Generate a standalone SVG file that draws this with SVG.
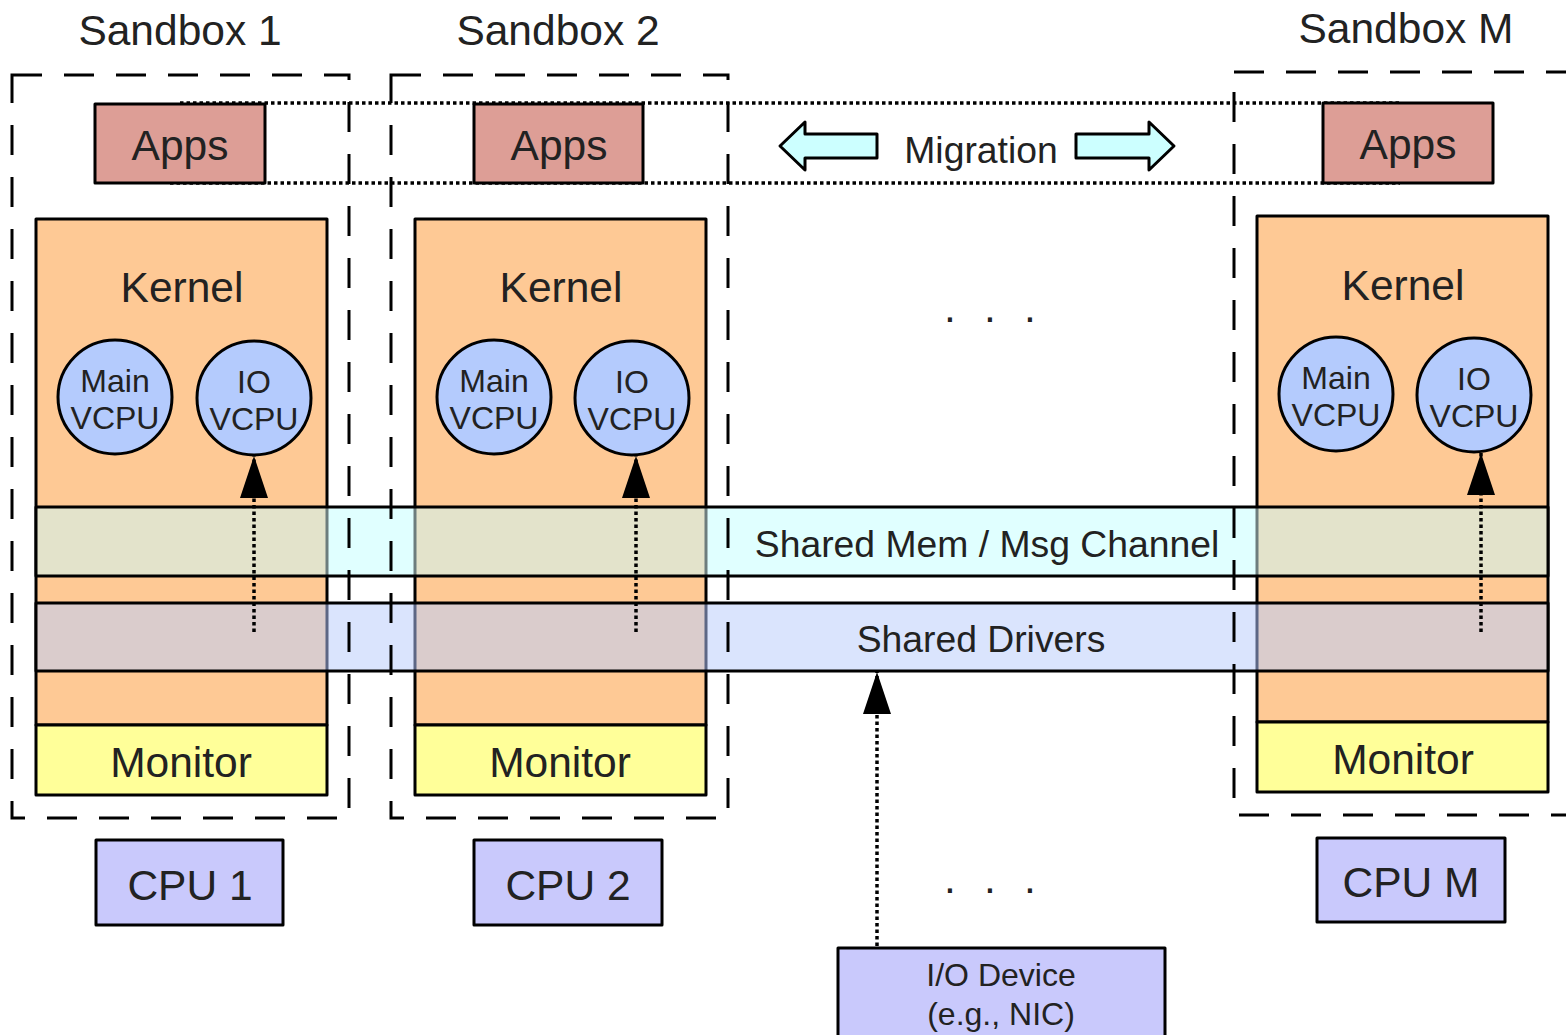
<svg xmlns="http://www.w3.org/2000/svg" width="1566" height="1035" viewBox="0 0 1566 1035">
  <style>
    text { font-family: "Liberation Sans", Arial, sans-serif; fill: #222; text-anchor: middle; }
    .box { stroke: #000; stroke-width: 3; stroke-linejoin: round; }
    .apps { fill: #dd9e96; }
    .kernel { fill: #fec995; }
    .monitor { fill: #ffff99; }
    .cpu { fill: #c9c9fc; }
    .vcpu { fill: #b4cbfd; stroke: #000; stroke-width: 3; }
    .sandbox { fill: none; stroke: #000; stroke-width: 3; stroke-dasharray: 30 22; }
    .dot { fill: none; stroke: #000; stroke-width: 3.5; stroke-dasharray: 3.5 3; }
    .big { font-size: 42.5px; }
    .mid { font-size: 37.3px; }
    .small { font-size: 32px; }
  </style>
  <defs>
    <marker id="head" viewBox="0 0 42 28" refX="42" refY="14" markerWidth="42" markerHeight="28" markerUnits="userSpaceOnUse" orient="auto">
      <path d="M42 14 L0 0 L0 28 Z" fill="#000"/>
    </marker>
  </defs>
  <rect width="1566" height="1035" fill="#fff"/>

  <!-- migration corridor between the app boxes -->
  <g id="migration">
    <line class="dot" x1="180" y1="103" x2="1400" y2="103"/>
    <line class="dot" x1="170" y1="183" x2="1400" y2="183"/>
    <path class="box" fill="#ccffff" d="M780 146 L805 122 L805 134 L877 134 L877 158 L805 158 L805 170 Z"/>
    <path class="box" fill="#ccffff" d="M1174 146 L1149 122 L1149 134 L1076 134 L1076 158 L1149 158 L1149 170 Z"/>
    <text class="mid" x="981" y="163">Migration</text>
  </g>

  <!-- sandbox 1 -->
  <g id="sandbox1">
    <text class="big" x="180" y="45">Sandbox 1</text>
    <rect class="box apps" x="95" y="104" width="170" height="79"/>
    <text class="big" x="180" y="160">Apps</text>
    <rect class="box kernel" x="36" y="219" width="291" height="506"/>
    <text class="big" x="182" y="302">Kernel</text>
    <circle class="vcpu" cx="115" cy="397" r="57"/>
    <text class="small" x="115" y="392">Main</text>
    <text class="small" x="115" y="429">VCPU</text>
    <circle class="vcpu" cx="254" cy="398" r="57"/>
    <text class="small" x="254" y="393">IO</text>
    <text class="small" x="254" y="430">VCPU</text>
    <rect class="box monitor" x="36" y="725" width="291" height="70"/>
    <text class="big" x="181" y="777">Monitor</text>
  </g>

  <!-- sandbox 2 -->
  <g id="sandbox2">
    <text class="big" x="558" y="45">Sandbox 2</text>
    <rect class="box apps" x="474" y="104" width="169" height="79"/>
    <text class="big" x="559" y="160">Apps</text>
    <rect class="box kernel" x="415" y="219" width="291" height="506"/>
    <text class="big" x="561" y="302">Kernel</text>
    <circle class="vcpu" cx="494" cy="397" r="57"/>
    <text class="small" x="494" y="392">Main</text>
    <text class="small" x="494" y="429">VCPU</text>
    <circle class="vcpu" cx="632" cy="398" r="57"/>
    <text class="small" x="632" y="393">IO</text>
    <text class="small" x="632" y="430">VCPU</text>
    <rect class="box monitor" x="415" y="725" width="291" height="70"/>
    <text class="big" x="560" y="777">Monitor</text>
  </g>

  <!-- sandbox M -->
  <g id="sandboxM">
    <text class="big" x="1406" y="43">Sandbox M</text>
    <rect class="box apps" x="1323" y="103" width="170" height="80"/>
    <text class="big" x="1408" y="159">Apps</text>
    <rect class="box kernel" x="1257" y="216" width="291" height="506"/>
    <text class="big" x="1403" y="300">Kernel</text>
    <circle class="vcpu" cx="1336" cy="394" r="57"/>
    <text class="small" x="1336" y="389">Main</text>
    <text class="small" x="1336" y="426">VCPU</text>
    <circle class="vcpu" cx="1474" cy="395" r="57"/>
    <text class="small" x="1474" y="390">IO</text>
    <text class="small" x="1474" y="427">VCPU</text>
    <rect class="box monitor" x="1257" y="722" width="291" height="70"/>
    <text class="big" x="1403" y="774">Monitor</text>
  </g>

  <!-- shared memory / message channel band -->
  <g id="shared-mem">
    <rect x="36" y="507" width="1512" height="69" fill="#e0ffff"/>
    <rect x="36" y="507" width="291" height="69" fill="#e3e3cb"/>
    <rect x="415" y="507" width="291" height="69" fill="#e3e3cb"/>
    <rect x="1257" y="507" width="291" height="69" fill="#e3e3cb"/>
    <g stroke="#6d7d7d" stroke-width="3">
      <line x1="327" y1="507" x2="327" y2="576"/>
      <line x1="415" y1="507" x2="415" y2="576"/>
      <line x1="706" y1="507" x2="706" y2="576"/>
      <line x1="1257" y1="507" x2="1257" y2="576"/>
    </g>
    <rect class="box" fill="none" x="36" y="507" width="1512" height="69"/>
    <text class="mid" x="987" y="557">Shared Mem / Msg Channel</text>
  </g>

  <!-- shared drivers band -->
  <g id="shared-drivers">
    <rect x="36" y="603" width="1512" height="68" fill="#dae4fd"/>
    <rect x="36" y="603" width="291" height="68" fill="#dacccc"/>
    <rect x="415" y="603" width="291" height="68" fill="#dacccc"/>
    <rect x="1257" y="603" width="291" height="68" fill="#dacccc"/>
    <g stroke="#5d6785" stroke-width="3">
      <line x1="327" y1="603" x2="327" y2="671"/>
      <line x1="415" y1="603" x2="415" y2="671"/>
      <line x1="706" y1="603" x2="706" y2="671"/>
      <line x1="1257" y1="603" x2="1257" y2="671"/>
    </g>
    <rect class="box" fill="none" x="36" y="603" width="1512" height="68"/>
    <text class="mid" x="981" y="652">Shared Drivers</text>
  </g>

  <!-- sandbox boundaries -->
  <g id="sandbox-borders">
    <rect class="sandbox" x="12" y="75" width="337" height="743"/>
    <rect class="sandbox" x="391" y="75" width="337" height="743"/>
    <rect class="sandbox" x="1234" y="72" width="400" height="743"/>
  </g>

  <!-- physical CPUs -->
  <g id="cpu1">
    <rect class="box cpu" x="96" y="840" width="187" height="85"/>
    <text class="big" x="190" y="900">CPU 1</text>
  </g>
  <g id="cpu2">
    <rect class="box cpu" x="474" y="840" width="188" height="85"/>
    <text class="big" x="568" y="900">CPU 2</text>
  </g>
  <g id="cpuM">
    <rect class="box cpu" x="1317" y="838" width="188" height="84"/>
    <text class="big" x="1411" y="897">CPU M</text>
  </g>

  <!-- I/O device -->
  <g id="io-device">
    <rect class="box cpu" x="838" y="948" width="327" height="100"/>
    <text class="small" x="1001" y="986">I/O Device</text>
    <text class="small" x="1001" y="1025">(e.g., NIC)</text>
  </g>

  <!-- ellipses -->
  <g id="ellipsis">
    <text class="big" x="950 990 1030" y="322">...</text>
    <text class="big" x="950 990 1030" y="893">...</text>
  </g>

  <!-- interrupt paths -->
  <g id="connectors">
    <line class="dot" x1="254" y1="632" x2="254" y2="456" marker-end="url(#head)"/>
    <line class="dot" x1="636" y1="632" x2="636" y2="456" marker-end="url(#head)"/>
    <line class="dot" x1="1481" y1="632" x2="1481" y2="453" marker-end="url(#head)"/>
    <line class="dot" x1="877" y1="946" x2="877" y2="672" marker-end="url(#head)"/>
  </g>
</svg>
